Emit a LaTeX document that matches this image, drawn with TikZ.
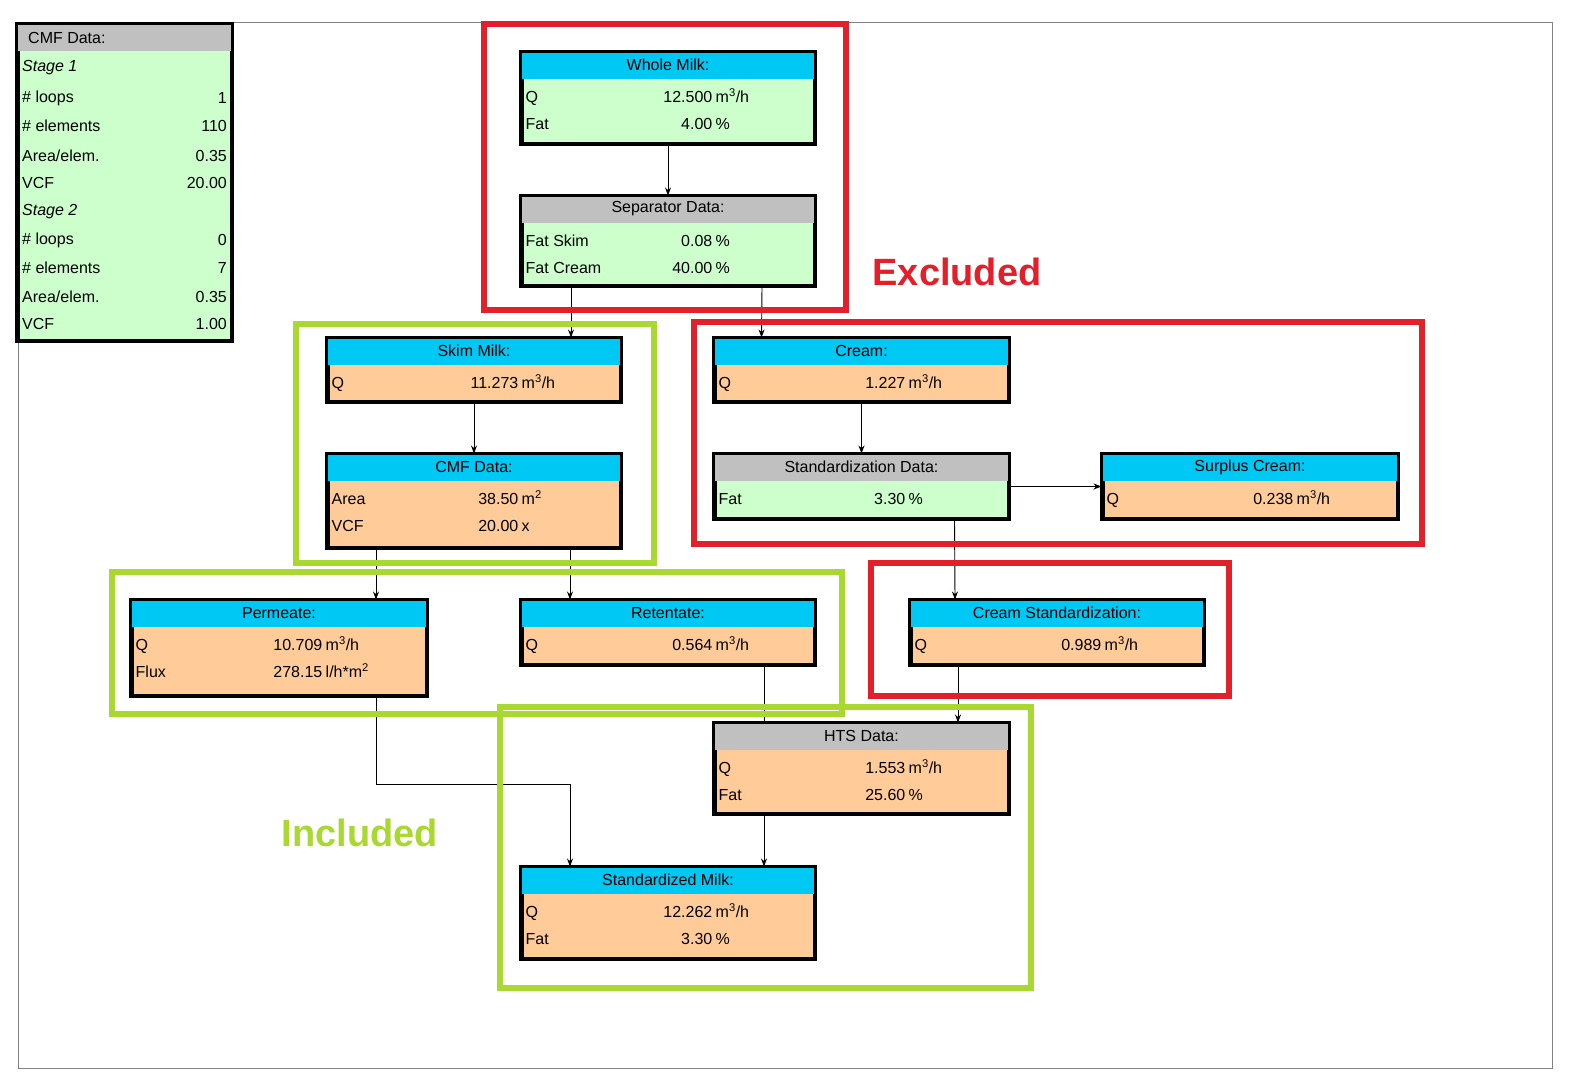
\documentclass[tikz,border=0pt]{standalone}
\usepackage{fontspec}
\setmainfont{Liberation Sans}
\usetikzlibrary{arrows.meta,positioning}
\definecolor{hdrcyan}{HTML}{00C8F5}
\definecolor{hdrgray}{HTML}{C0C0C0}
\definecolor{bodygreen}{HTML}{CCFFCC}
\definecolor{bodyorange}{HTML}{FFCC99}
\definecolor{exred}{HTML}{E3202A}
\definecolor{inlime}{HTML}{A9D930}
\tikzset{
  panel/.style={draw, line width=3pt, inner sep=0pt},
  cell/.style={inner sep=0pt, font=\fontsize{16}{17}\selectfont},
  flow/.style={-{Stealth[length=8pt,width=6pt]}, line width=0.9pt},
  zone/.style={line width=6pt},
}
% box: name, x1, y1, x2, y2, header colour, body colour, title
\newcommand\panelbox[8]{
  \node[panel, fill=#7, minimum width={#4-#2}, minimum height={#5-#3}]
    (#1) at ({(#2+#4)/2},{(#3+#5)/2}) {};
  \fill[#6] (#1.north west) rectangle ([yshift=-27pt]#1.north east);
  \node[cell] at ([yshift=-13.5pt]#1.north) {#8};
  \draw[line width=3pt] (#1.north west) rectangle (#1.south east);
}
% row: box, row number, label, value, unit
\newcommand\panelrow[5]{
  \node[cell, anchor=base west] at ([shift={(5pt,{-51pt-27pt*(#2-1)})}]#1.north west) {#3};
  \node[cell, anchor=base east] at ([shift={(192pt,{-51pt-27pt*(#2-1)})}]#1.north west) {#4};
  \node[cell, anchor=base west] at ([shift={(195pt,{-51pt-27pt*(#2-1)})}]#1.north west) {#5};
}
\begin{document}
\begin{tikzpicture}[x=1pt, y=-1pt]
  \useasboundingbox (0,0) rectangle (1577,1080);
  \fill[white] (0,0) rectangle (1577,1080);
  \draw[gray, line width=1pt] (18,22) rectangle (1552,1068);

  % legend
  \node[panel, fill=bodygreen, minimum width=213, minimum height=315] (legend) at (124.5,182.5) {};
  \fill[hdrgray] (legend.north west) rectangle ([yshift=-27pt]legend.north east);
  \node[cell, anchor=west] at (28,38) {CMF Data:};
  \foreach \y/\l/\v in {68/{\textit{Stage 1}}/{}, 98/{\# loops}/1, 126/{\# elements}/110,
      156/{Area/elem.}/0.35, 183/VCF/20.00, 212/{\textit{Stage 2}}/{}, 240/{\# loops}/0,
      268/{\# elements}/7, 297/{Area/elem.}/0.35, 324/VCF/1.00} {
    \node[cell, anchor=west] at (22,\y) {\l};
    \node[cell, anchor=east] at (227,\y) {\v};
  }
  \draw[line width=3pt] (legend.north west) rectangle (legend.south east);

  % boxes
  \panelbox{whole}{522}{53}{814}{143}{hdrcyan}{bodygreen}{Whole Milk:}
  \panelrow{whole}{1}{Q}{12.500}{m\textsuperscript{3}/h}
  \panelrow{whole}{2}{Fat}{4.00}{\%}
  \panelbox{sep}{522}{197}{814}{285}{hdrgray}{bodygreen}{Separator Data:}
  \panelrow{sep}{1}{Fat Skim}{0.08}{\%}
  \panelrow{sep}{2}{Fat Cream}{40.00}{\%}
  \panelbox{skim}{328}{339}{620}{401}{hdrcyan}{bodyorange}{Skim Milk:}
  \panelrow{skim}{1}{Q}{11.273}{m\textsuperscript{3}/h}
  \panelbox{cmf}{328}{455}{620}{547}{hdrcyan}{bodyorange}{CMF Data:}
  \panelrow{cmf}{1}{Area}{38.50}{m\textsuperscript{2}}
  \panelrow{cmf}{2}{VCF}{20.00}{x}
  \panelbox{perm}{132}{601}{426}{695}{hdrcyan}{bodyorange}{Permeate:}
  \panelrow{perm}{1}{Q}{10.709}{m\textsuperscript{3}/h}
  \panelrow{perm}{2}{Flux}{278.15}{l/h*m\textsuperscript{2}}
  \panelbox{ret}{522}{601}{814}{664}{hdrcyan}{bodyorange}{Retentate:}
  \panelrow{ret}{1}{Q}{0.564}{m\textsuperscript{3}/h}
  \panelbox{cream}{715}{339}{1008}{401}{hdrcyan}{bodyorange}{Cream:}
  \panelrow{cream}{1}{Q}{1.227}{m\textsuperscript{3}/h}
  \panelbox{std}{715}{455}{1008}{518}{hdrgray}{bodygreen}{Standardization Data:}
  \panelrow{std}{1}{Fat}{3.30}{\%}
  \panelbox{surplus}{1103}{455}{1397}{518}{hdrcyan}{bodyorange}{Surplus Cream:}
  \panelrow{surplus}{1}{Q}{0.238}{m\textsuperscript{3}/h}
  \panelbox{cstd}{911}{601}{1203}{664}{hdrcyan}{bodyorange}{Cream Standardization:}
  \panelrow{cstd}{1}{Q}{0.989}{m\textsuperscript{3}/h}
  \panelbox{hts}{715}{724}{1008}{813}{hdrgray}{bodyorange}{HTS Data:}
  \panelrow{hts}{1}{Q}{1.553}{m\textsuperscript{3}/h}
  \panelrow{hts}{2}{Fat}{25.60}{\%}
  \panelbox{stdmilk}{522}{868}{814}{958}{hdrcyan}{bodyorange}{Standardized Milk:}
  \panelrow{stdmilk}{1}{Q}{12.262}{m\textsuperscript{3}/h}
  \panelrow{stdmilk}{2}{Fat}{3.30}{\%}

  % connectors
  \draw[flow] (whole.south) -- (sep.north);
  \draw[flow] ([xshift=-97pt]sep.south) -- ([xshift=97pt]skim.north);
  \draw[flow] ([xshift=94pt]sep.south) -- ([xshift=-100pt]cream.north);
  \draw[flow] (skim.south) -- (cmf.north);
  \draw[flow] (cream.south) -- (cream.south |- std.north);
  \draw[flow] (std.east) -- (surplus.west);
  \draw[flow] ([xshift=93pt]std.south) -- ([xshift=-102pt]cstd.north);
  \draw[flow] ([xshift=-98pt]cmf.south) -- ([xshift=97pt]perm.north);
  \draw[flow] ([xshift=96pt]cmf.south) -- ([xshift=-98pt]ret.north);
  \draw[line width=0.9pt] ([xshift=96pt]ret.south) -- ([xshift=-97.5pt]hts.north);
  \draw[flow] ([xshift=-99pt]cstd.south) -- ([xshift=96.5pt]hts.north);
  \draw[flow] ([xshift=-97.5pt]hts.south) -- ([xshift=96pt]stdmilk.north);
  \draw[flow] ([xshift=97pt]perm.south) -- ++(0,88) -| ([xshift=-98pt]stdmilk.north);

  % zones
  \draw[zone, exred] (484,24) rectangle (846,310);
  \draw[zone, exred] (694,322) rectangle (1422,544);
  \draw[zone, exred] (871,563) rectangle (1229,696);
  \draw[zone, inlime] (296,324) rectangle (654,563);
  \draw[zone, inlime] (112,572) rectangle (842,714);
  \draw[zone, inlime] (500,707) rectangle (1031,988);
  \node[cell, exred, font=\fontsize{38}{40}\selectfont\bfseries] (excl) at (957,272) {Excluded};
  \node[cell, inlime, font=\fontsize{38}{40}\selectfont\bfseries] (incl) at (360,833) {Included};
\end{tikzpicture}
\end{document}
